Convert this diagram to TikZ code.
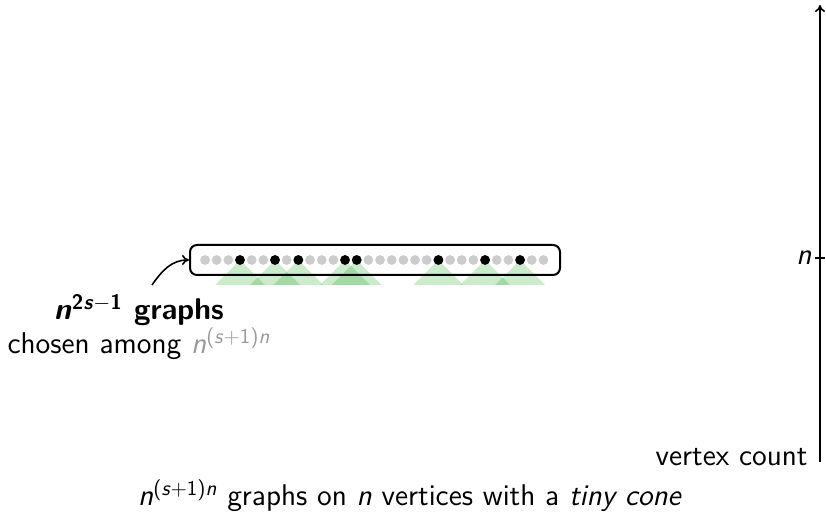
\documentclass[tikz,border=0pt]{standalone}
\usetikzlibrary{arrows.meta}
\renewcommand\familydefault{\sfdefault}
\newcommand\vn{\textit{n}}
\newcommand\vs{\textit{s}}
\begin{document}
\begin{tikzpicture}[x=0.5pt,y=-0.5pt,
  font=\fontsize{15}{14.5}\selectfont\sffamily,
  dot/.style={circle,inner sep=0pt,minimum size=4.9pt,fill=gray!40},
  hit/.style={dot,fill=black},
  cone/.style={fill=green!60!black,fill opacity=0.2},
  frame/.style={draw,rounded corners=3.5pt,line width=1pt,inner sep=0pt,
                minimum width=185pt,minimum height=15pt},
  axis/.style={line width=0.8pt},
  pointer/.style={-{To[length=3.5pt,width=5pt]},line width=0.8pt}]
\useasboundingbox (0,0) rectangle (826,517);

% positions of the 30 vertices
\foreach \i in {0,...,29}
  \coordinate (p\i) at ({205+11.67*\i},260);

% tiny cones below the chosen vertices
\foreach \b in {3,6,8,12,13,20,24,27}
  \fill[cone] (p\b) -- ++(-25,25) -- ++(50,0) -- cycle;

% the chosen family
\node[frame] (box) at (375,260) {};

\foreach \i in {0,...,29}
  \node[dot] (d\i) at (p\i) {};
\foreach \b in {3,6,8,12,13,20,24,27}
  \node[hit] (h\b) at (p\b) {};

% label and pointer
\node[align=center] (lbl) at (139,327)
  {\textbf{\vn\textsuperscript{2\vs$-$1} graphs}\\
   chosen among {\color{gray!80}\vn\textsuperscript{(\vs+1)\vn}}};
\coordinate (pstart) at (152,285);
\draw[pointer] (pstart) to[out=55,in=180] (box.west);

% vertex-count axis
\coordinate (axb) at (820,462);
\coordinate (axt) at (820,5);
\coordinate (tick) at (820,258);
\draw[axis,-{To[length=3.5pt,width=5pt]}] (axb) -- (axt);
\draw[axis] ([xshift=-2.5pt]tick) -- ([xshift=2.5pt]tick);
\node[anchor=east,inner sep=1pt] (nlab) at ([xshift=-3pt]tick) {\vn};
\node[anchor=base east,inner sep=0pt] (vc) at (808,466) {vertex count};

% caption
\node[anchor=base] (cap) at (410,506)
  {\vn\textsuperscript{(\vs+1)\vn} graphs on \vn{} vertices with a \textit{tiny cone}};
\end{tikzpicture}
\end{document}
